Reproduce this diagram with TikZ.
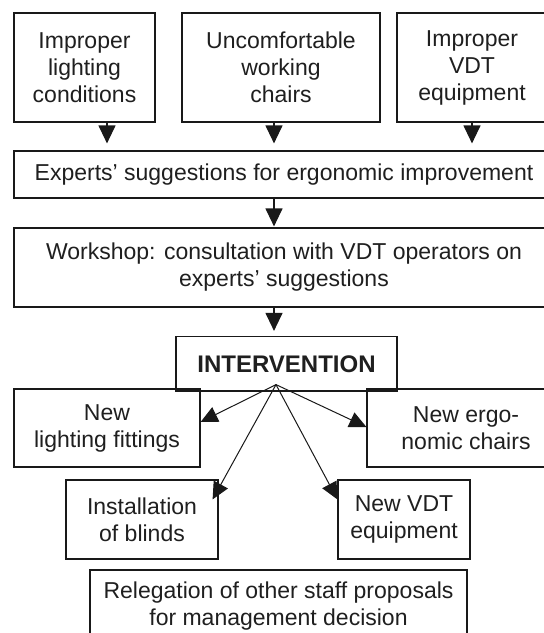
\documentclass[tikz,border=0pt]{standalone}
\usepackage{fontspec}
\setmainfont{Liberation Sans}
\usetikzlibrary{arrows.meta}
\begin{document}
\begin{tikzpicture}[x=1pt,y=-1pt,
  box/.style={draw=black!90, line width=1.2pt, align=center, inner sep=0pt, anchor=center,
    text=black!88, font=\fontsize{23}{27}\selectfont},
  dn/.style={draw=black!90, line width=1.2pt, -{Triangle[length=18pt,width=17pt]}},
  dg/.style={draw=black!90, line width=1pt, -{Triangle[length=17pt,width=16pt]}}]
\useasboundingbox (0,0) rectangle (544,633);
\clip (0,0) rectangle (544,633);
\fill[white] (0,0) rectangle (544,633);
% top causes
\node[box, minimum width=141pt, minimum height=109pt] (c1) at (84.5,67.5) {Improper\\lighting\\conditions};
\node[box, minimum width=198pt, minimum height=109pt] (c2) at (281,67.5) {Uncomfortable\\working\\chairs};
\node[box, minimum width=150pt, minimum height=109pt] (c3) at (472,67.5) {Improper\\VDT\\equipment};
% middle
\node[box, minimum width=540pt, minimum height=47pt] (exp) at (284,174.5) {Experts’ suggestions for ergonomic improvement};
\node[box, minimum width=540pt, minimum height=79pt] (ws) at (284,267.5) {Workshop: consultation with VDT operators on\\experts’ suggestions};
\node[box, minimum width=221pt, minimum height=54.5pt, font=\fontsize{24}{28}\selectfont\bfseries] (int) at (286.5,363.75) {INTERVENTION};
% outcomes
\node[box, minimum width=186pt, minimum height=78pt] (light) at (107,428) {New\\lighting fittings};
\node[box, minimum width=198pt, minimum height=78pt] (chair) at (466,428) {New ergo-\\nomic chairs};
\node[box, minimum width=152pt, minimum height=79pt] (blind) at (142,519.5) {Installation\\of blinds};
\node[box, minimum width=132pt, minimum height=79pt] (vdt) at (404,519.5) {New VDT\\equipment};
\node[box, minimum width=377pt, minimum height=72pt] (rel) at (278.5,606) {Relegation of other staff proposals\\for management decision};
% vertical arrows
\draw[dn, shorten >=7pt] ([xshift=22.5pt]c1.south) -- ([xshift=22.5pt]c1.south |- exp.north);
\draw[dn, shorten >=7pt] ([xshift=-7pt]c2.south) -- ([xshift=-7pt]c2.south |- exp.north);
\draw[dn, shorten >=7pt] (c3.south) -- (c3.south |- exp.north);
\draw[dn, shorten >=1pt] ([xshift=-10pt]exp.south) -- ([xshift=-10pt]exp.south |- ws.north);
\draw[dn, shorten >=5pt] ([xshift=-10pt]ws.south) -- ([xshift=-10pt]ws.south |- int.north);
% fan-out
\coordinate (apex) at ([xshift=-10.5pt,yshift=7pt]int.south);
\draw[dg] (apex) -- ([yshift=6pt]light.east);
\draw[dg] (apex) -- ([yshift=1pt]chair.west);
\draw[dg] (apex) -- ([xshift=-6pt,yshift=-20pt]blind.north east);
\draw[dg] (apex) -- ([yshift=-20pt]vdt.north west);
\end{tikzpicture}
\end{document}
